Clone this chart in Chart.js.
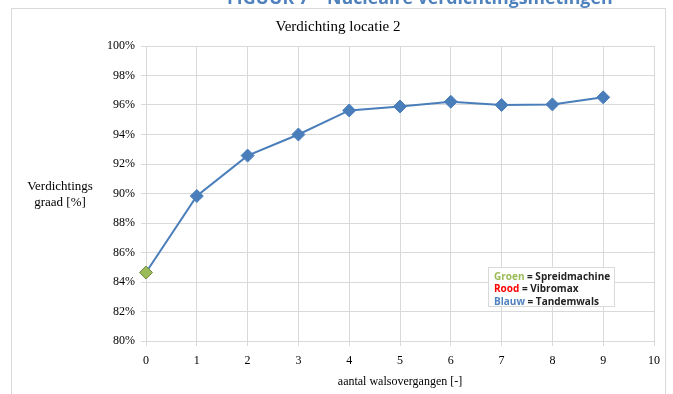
<!DOCTYPE html>
<html>
<head>
<meta charset="utf-8">
<script src="https://cdn.jsdelivr.net/npm/chart.js@4"></script>
<style>
  html, body { margin: 0; padding: 0; background: #fff; }
  #wrap { width: 673px; height: 394px; }
</style>
</head>
<body>
<div id="wrap"><canvas id="chart" width="673" height="394"></canvas></div>
<script>
// walsovergangen en gemeten verdichtingsgraad
const passes = [0, 1, 2, 3, 4, 5, 6, 7, 8, 9];
const density = [84.64, 89.83, 92.57, 94.0, 95.63, 95.9, 96.22, 96.0, 96.04, 96.52];
const pointColors = ['#9bbb59', '#4a7ebb', '#4a7ebb', '#4a7ebb', '#4a7ebb', '#4a7ebb', '#4a7ebb', '#4a7ebb', '#4a7ebb', '#4a7ebb'];
const pointBorders = ['#71893f', '#4a7ebb', '#4a7ebb', '#4a7ebb', '#4a7ebb', '#4a7ebb', '#4a7ebb', '#4a7ebb', '#4a7ebb', '#4a7ebb'];

const headerText = 'FIGUUR 7 \u2013 Nucleaire verdichtingsmetingen';
const chartTitle = 'Verdichting locatie 2';
const yTitle = ['Verdichtings', 'graad [%]'];
const xTitle = 'aantal walsovergangen [-]';
const legendItems = [
    {word: 'Groen', color: '#9bbb59', rest: ' = Spreidmachine'},
    {word: 'Rood', color: '#ff0000', rest: ' = Vibromax'},
    {word: 'Blauw', color: '#4f81bd', rest: ' = Tandemwals'}
];

const serif = '"Liberation Serif", "DejaVu Serif", serif';

const decorations = {
    id: 'decorations',
    beforeDraw(chart) {
        const ctx = chart.ctx;
        ctx.save();
        ctx.fillStyle = '#fff';
        ctx.fillRect(0, 0, chart.width, chart.height);
        // kop van de figuur, bovenaan afgesneden
        ctx.fillStyle = '#4f81bd';
        ctx.font = 'bold 20px "Open Sans", sans-serif';
        const hw = ctx.measureText(headerText).width;
        const size = Math.round(20 * 386 / hw * 10) / 10;
        ctx.font = 'bold ' + size + 'px "Open Sans", sans-serif';
        ctx.textAlign = 'left';
        ctx.textBaseline = 'alphabetic';
        ctx.fillText(headerText, 227, 4);
        // kader
        ctx.strokeStyle = '#d9d9d9';
        ctx.lineWidth = 1;
        ctx.strokeRect(11.5, 8.5, 654, 400);
        // titel
        ctx.fillStyle = '#000';
        ctx.font = '15px ' + serif;
        ctx.textAlign = 'center';
        ctx.textBaseline = 'middle';
        ctx.fillText(chartTitle, 338, 27);
        // y-as titel, horizontaal
        ctx.font = '13px ' + serif;
        ctx.fillText(yTitle[0], 60, 187);
        ctx.fillText(yTitle[1], 60, 203);
        ctx.restore();
    },
    afterDatasetsDraw(chart) {
        const ctx = chart.ctx;
        ctx.save();
        ctx.fillStyle = '#fff';
        ctx.fillRect(488, 267, 126, 39);
        ctx.strokeStyle = '#d9d9d9';
        ctx.strokeRect(488.5, 267.5, 126, 39);
        ctx.font = 'bold 10px "Open Sans", sans-serif';
        ctx.textAlign = 'left';
        ctx.textBaseline = 'middle';
        legendItems.forEach((item, i) => {
            const y = 277 + i * 12.5;
            ctx.fillStyle = item.color;
            ctx.fillText(item.word, 494, y);
            const w = ctx.measureText(item.word).width;
            ctx.fillStyle = '#222';
            ctx.fillText(item.rest, 494 + w, y);
        });
        ctx.restore();
    }
};

new Chart(document.getElementById('chart'), {
    type: 'line',
    data: {
        labels: passes,
        datasets: [{
            data: passes.map((p, i) => ({x: p, y: density[i]})),
            borderColor: '#4a7ebb',
            borderWidth: 2,
            tension: 0,
            clip: false,
            pointStyle: 'rectRot',
            pointRadius: 6.5,
            pointHoverRadius: 6.5,
            pointBackgroundColor: pointColors,
            pointBorderColor: pointBorders,
            pointBorderWidth: 1
        }]
    },
    options: {
        responsive: false,
        animation: false,
        layout: {padding: {top: 46, right: 19, left: 0, bottom: 0}},
        plugins: {
            legend: {display: false},
            tooltip: {enabled: false},
            title: {display: false}
        },
        scales: {
            x: {
                type: 'linear',
                min: 0,
                max: 10,
                ticks: {stepSize: 1, color: '#000', padding: 8, font: {family: serif, size: 12}},
                grid: {color: '#d9d9d9', tickLength: 5},
                border: {color: '#d9d9d9'},
                title: {display: true, text: xTitle, color: '#000', font: {family: serif, size: 12}, padding: {top: 4, bottom: 5}},
                afterFit(scale) { scale.height = 53; }
            },
            y: {
                min: 80,
                max: 100,
                ticks: {stepSize: 2, color: '#000', padding: 6, font: {family: serif, size: 12}, callback: v => v + '%'},
                grid: {color: '#d9d9d9', tickLength: 5},
                border: {color: '#d9d9d9'},
                afterFit(scale) { scale.width = 146; }
            }
        }
    },
    plugins: [decorations]
});
</script>
</body>
</html>
